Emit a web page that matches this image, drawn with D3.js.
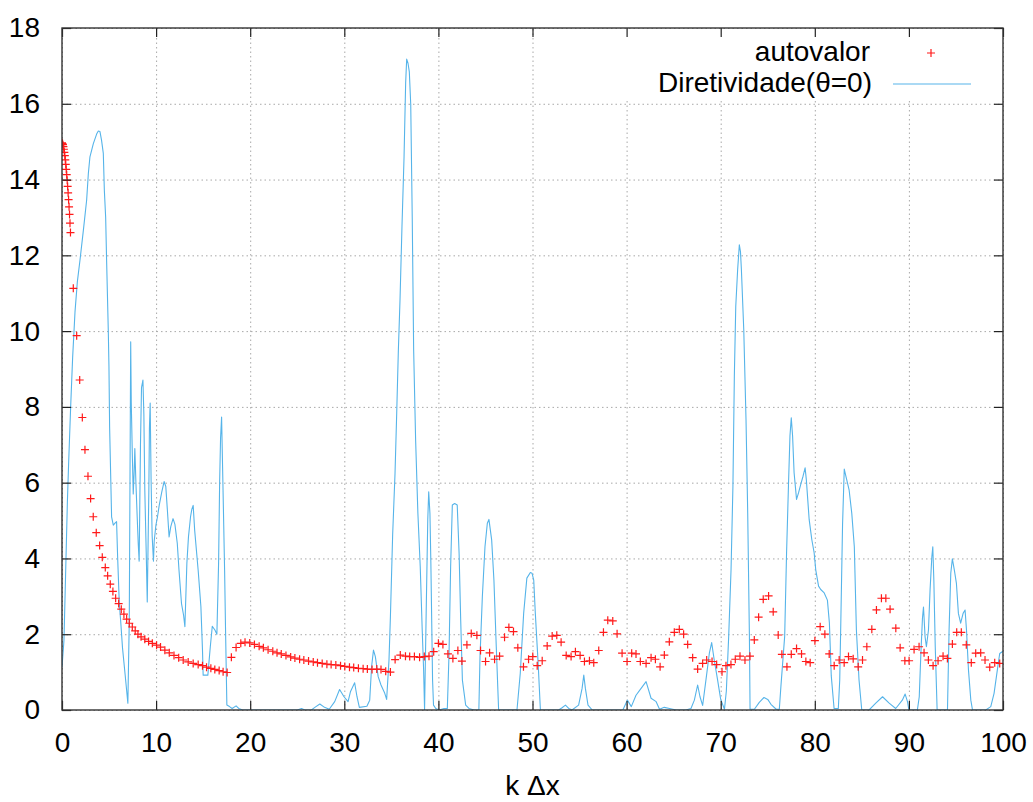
<!DOCTYPE html>
<html>
<head>
<meta charset="utf-8">
<script src="https://cdn.jsdelivr.net/npm/d3@7"></script>
<style>
  body { margin: 0; background: #fff; }
  text { font-family: "Liberation Sans", Arial, Helvetica, sans-serif; }
</style>
</head>
<body>
<svg id="chart" width="1033" height="802"></svg>
<script>
// Eigenvalue samples (autovalor) versus k·Δx
const autovalorX = [
  0.00,0.05,0.10,0.15,0.20,0.25,0.30,0.35,0.40,0.45,0.50,0.55,0.60,0.65,0.70,0.75,0.80,0.85,0.90,
  1.20,1.56,1.88,2.16,2.44,2.76,3.04,3.32,3.64,4.00,4.28,4.60,4.85,5.13,5.41,5.70,6.02,6.30,6.58,6.87,
  7.15,7.47,7.78,8.07,8.40,8.80,9.20,9.60,10.05,10.47,10.93,11.40,11.90,12.40,12.88,13.41,13.94,14.47,
  14.93,15.36,15.82,16.24,16.70,17.12,17.55,
  18.00,18.50,19.00,19.45,19.95,20.45,20.95,21.40,21.90,22.40,22.85,23.30,23.80,24.30,24.75,25.25,25.70,
  26.20,26.70,27.15,27.65,28.15,28.60,29.10,29.60,30.05,30.55,31.00,31.50,32.00,32.45,32.95,33.45,33.90,
  34.40,34.90,35.40,35.95,36.50,36.95,37.45,38.00,38.50,39.00,39.50,40.00,
  40.48,41.01,41.54,42.07,42.50,43.03,43.49,44.09,44.48,45.01,45.44,45.97,46.50,47.03,47.49,47.98,48.44,
  49.04,49.58,50.03,50.50,51.03,51.56,52.09,52.58,53.04,53.58,54.10,54.56,55.06,55.52,56.05,56.51,57.04,
  57.54,58.00,58.53,58.99,59.52,60.05,60.54,61.00,61.46,62.07,
  62.60,63.06,63.56,64.01,64.54,65.07,65.60,66.06,66.49,67.02,67.55,68.08,68.51,69.08,69.57,70.14,70.56,
  71.09,71.55,72.05,72.58,73.11,73.57,74.03,74.52,75.09,75.58,76.11,76.50,77.04,77.50,78.06,78.59,79.05,
  79.51,80.01,80.57,81.07,81.53,82.06,82.59,83.12,83.58,84.08,84.61,85.07,85.53,86.06,86.55,87.08,87.55,
  88.00,88.61,89.07,89.57,90.02,90.55,91.08,91.61,92.07,92.57,93.10,93.63,94.09,94.62,95.08,95.57,96.10,
  96.63,97.10,97.63,98.09,98.59,99.12,99.65
];
const autovalorY = [
  14.97,14.95,14.92,14.87,14.80,14.72,14.63,14.52,14.40,14.27,14.13,13.98,13.82,13.65,13.47,13.28,13.08,12.85,12.60,
  11.13,9.88,8.71,7.72,6.87,6.17,5.58,5.10,4.68,4.34,4.03,3.76,3.54,3.32,3.13,2.95,2.81,2.66,2.53,2.40,
  2.29,2.19,2.09,2.00,1.93,1.87,1.81,1.76,1.71,1.66,1.58,1.51,1.44,1.38,1.32,1.27,1.23,1.20,
  1.17,1.13,1.10,1.07,1.04,1.01,0.99,
  1.39,1.65,1.76,1.79,1.77,1.73,1.68,1.64,1.59,1.55,1.51,1.48,1.44,1.40,1.37,1.34,1.32,
  1.29,1.27,1.25,1.23,1.21,1.20,1.19,1.17,1.15,1.13,1.12,1.10,1.09,1.08,1.07,1.08,1.07,
  1.02,1.00,1.33,1.45,1.42,1.41,1.41,1.39,1.41,1.42,1.54,1.76,
  1.73,1.48,1.36,1.57,1.29,1.72,2.02,1.97,1.57,1.28,1.51,1.34,1.42,1.92,2.18,2.07,1.64,
  1.14,1.34,1.41,1.17,1.30,1.69,1.95,1.97,1.79,1.44,1.41,1.54,1.44,1.28,1.30,1.25,1.57,
  2.05,2.37,2.35,2.01,1.50,1.28,1.50,1.48,1.28,1.23,
  1.38,1.34,1.14,1.45,1.80,2.05,2.13,2.00,1.73,1.38,1.08,1.23,1.32,1.28,1.20,1.01,1.17,
  1.20,1.34,1.42,1.32,1.42,1.85,2.45,2.92,3.01,2.59,1.98,1.47,1.14,1.47,1.62,1.48,1.28,
  1.25,1.83,2.20,2.00,1.48,1.17,1.32,1.25,1.41,1.35,1.14,1.32,1.67,2.13,2.64,2.95,2.95,
  2.66,2.16,1.64,1.30,1.30,1.60,1.67,1.51,1.32,1.17,1.30,1.42,1.36,1.74,2.05,2.05,1.72,
  1.25,1.50,1.51,1.32,1.13,1.25,1.23
];

// Directivity at theta = 0 (Diretividade) versus k·Δx
const diretividadeX = [
  0.00,0.21,0.42,0.57,0.70,0.92,1.13,1.38,1.63,1.91,2.27,2.62,2.80,2.97,3.33,3.68,3.86,4.03,4.20,4.39,
  4.50,4.64,4.74,4.92,4.99,5.06,5.20,5.27,5.45,5.66,5.80,5.91,6.09,6.23,6.43,6.71,7.00,7.15,7.30,7.36,
  7.47,7.57,7.67,7.74,7.85,7.99,8.10,8.20,8.34,8.45,8.60,8.70,8.80,8.95,9.06,9.23,9.29,9.37,9.47,9.58,
  9.72,9.80,9.98,10.15,10.33,10.60,10.85,11.03,11.20,11.38,11.56,11.80,12.00,12.25,12.43,12.70,12.92,
  13.06,13.27,13.44,13.66,13.80,13.94,14.10,14.47,14.76,14.93,15.00,15.50,15.76,15.97,16.25,16.46,16.64,
  16.75,16.85,16.96,17.10,17.28,17.38,17.52,17.80,18.08,18.50,18.78,19.20,25.00,25.46,25.80,26.50,26.87,
  27.40,27.90,28.40,28.98,29.50,29.97,30.40,30.65,31.10,31.35,31.60,32.40,32.70,32.90,33.10,33.30,33.60,
  33.90,34.30,34.50,34.75,34.90,35.14,35.39,35.57,35.74,35.92,36.13,36.35,36.52,36.63,36.77,36.91,37.06,
  37.22,37.37,37.58,37.82,38.07,38.28,38.43,38.53,38.70,38.87,38.97,39.10,39.20,39.38,39.48,39.72,40.07,
  40.60,40.95,41.13,41.30,41.48,41.73,42.00,42.20,42.37,42.55,42.90,43.25,43.79,44.30,44.42,44.67,44.95,
  45.20,45.37,45.66,45.90,46.15,46.40,48.35,48.70,49.06,49.40,49.77,49.95,50.13,50.30,50.60,50.84,52.78,
  53.14,53.50,53.85,54.20,54.90,55.27,55.45,55.62,55.90,56.35,59.60,60.08,60.50,61.00,61.54,62.07,62.60,
  63.14,63.50,64.00,64.56,65.26,66.30,66.84,67.20,67.55,67.80,68.08,68.44,68.80,69.04,69.30,69.66,70.00,
  70.40,70.60,70.85,71.10,71.30,71.45,71.60,71.80,71.98,72.10,72.20,72.45,72.69,72.87,73.05,73.12,73.58,
  74.10,74.60,75.00,75.34,75.90,76.23,76.40,76.80,77.00,77.20,77.36,77.50,77.64,77.80,78.06,78.27,78.50,
  78.75,78.97,79.10,79.40,79.68,79.93,80.10,80.40,80.63,81.00,81.34,81.55,81.75,82.05,82.50,82.65,82.77,
  82.95,83.13,83.37,83.65,83.93,84.20,84.42,84.70,84.99,85.77,86.48,87.20,87.90,88.60,89.30,89.60,89.85,
  90.00,90.90,91.10,91.26,91.44,91.55,91.72,91.86,92.08,92.25,92.44,92.54,92.65,92.80,93.00,94.10,94.27,
  94.45,94.62,94.83,95.05,95.26,95.50,95.76,95.97,96.12,96.33,96.58,96.76,98.17,98.70,99.05,99.40,99.65,
  100.00
];
const diretividadeY = [
  1.13,1.84,3.96,5.47,6.48,8.00,9.30,10.50,11.30,11.87,12.66,13.46,14.16,14.60,14.95,15.20,15.28,15.27,15.04,14.69,
  13.72,13.00,11.87,10.00,9.06,7.47,5.89,5.10,4.88,4.94,4.97,4.05,2.81,2.37,1.64,0.93,0.18,2.37,9.72,8.13,
  6.77,5.70,6.30,6.90,6.03,5.10,4.40,3.93,7.00,8.51,8.71,7.80,5.80,4.16,2.85,5.80,7.43,8.10,6.03,4.60,
  3.93,4.46,4.88,5.10,5.40,5.75,6.03,5.90,5.27,4.57,4.84,5.05,4.90,4.40,3.70,2.81,2.50,
  2.20,3.87,4.57,5.10,5.30,5.40,4.74,3.69,2.73,1.58,0.92,0.92,1.67,2.21,2.11,2.00,3.87,
  5.98,7.17,7.73,5.98,3.69,2.11,0.13,0.09,0.04,0.11,0.04,0.00,0.00,0.04,0.00,0.00,0.07,
  0.16,0.07,0.02,0.22,0.54,0.35,0.22,0.48,0.72,0.35,0.07,0.10,0.26,1.14,1.58,1.41,0.88,
  0.66,0.44,0.28,1.32,2.46,4.64,6.24,7.84,9.45,10.82,12.77,14.60,16.55,17.18,17.07,16.84,15.98,
  13.00,9.50,7.12,5.19,3.78,2.11,1.05,0.00,2.55,5.02,5.76,5.19,3.87,0.79,0.13,0.04,0.00,
  0.04,0.04,1.49,3.78,5.41,5.45,5.41,4.13,2.37,0.79,0.13,0.04,0.00,0.00,1.40,2.99,4.31,
  4.93,5.03,4.49,3.43,1.67,0.00,0.00,0.97,2.55,3.48,3.63,3.61,3.43,2.55,1.23,0.00,0.00,
  0.06,0.13,0.04,0.00,0.13,0.57,0.92,0.57,0.13,0.00,0.00,0.26,0.09,0.39,0.57,0.75,0.31,
  0.22,0.02,0.07,0.04,0.00,0.00,0.04,0.26,0.66,0.35,0.12,0.81,1.51,1.78,1.34,0.81,0.28,
  0.02,0.50,1.95,3.71,5.91,8.81,10.65,11.62,12.28,12.10,11.62,10.04,7.67,5.20,1.95,0.02,0.02,
  0.20,0.33,0.28,0.15,0.02,0.02,0.63,1.95,4.15,5.91,7.23,7.71,7.23,6.26,5.56,5.73,5.95,
  6.17,6.39,6.08,5.03,4.50,4.15,3.70,3.27,3.18,3.09,2.90,2.30,0.90,0.04,0.04,0.79,2.39,
  4.90,6.36,6.10,5.80,5.19,4.31,2.11,0.79,0.00,0.00,0.18,0.35,0.18,0.04,0.26,0.42,0.22,
  0.00,0.00,0.35,1.41,2.42,2.72,1.93,1.67,2.11,3.17,4.05,4.31,3.43,1.67,0.00,0.00,2.11,
  3.61,3.99,3.69,3.34,2.55,2.29,2.55,2.64,2.11,1.06,0.26,0.00,0.00,0.09,0.44,1.06,1.49,
  1.55
];

const xTickValues = [0, 10, 20, 30, 40, 50, 60, 70, 80, 90, 100];
const yTickValues = [0, 2, 4, 6, 8, 10, 12, 14, 16, 18];
const seriesLabels = ["autovalor", "Diretividade(\u03b8=0)"];
const xAxisTitle = "k \u0394x";

const colorPoints = "#ff1a1a";
const colorLine = "#56b4e9";
const fontSize = 28;

const svg = d3.select("#chart");
const plot = { left: 62, right: 1003, top: 28, bottom: 710 };

const x = d3.scaleLinear().domain([0, 100]).range([plot.left, plot.right]);
const y = d3.scaleLinear().domain([0, 18]).range([plot.bottom, plot.top]);

// dotted grid
const grid = svg.append("g").attr("class", "grid");
grid.append("g")
  .attr("transform", `translate(0,${plot.bottom})`)
  .call(d3.axisBottom(x).tickValues(xTickValues).tickSize(-(plot.bottom - plot.top)).tickFormat(""));
grid.append("g")
  .attr("transform", `translate(${plot.left},0)`)
  .call(d3.axisLeft(y).tickValues(yTickValues).tickSize(-(plot.right - plot.left)).tickFormat(""));
grid.selectAll(".domain").remove();
grid.selectAll("line")
  .attr("stroke", "#a8a8a8")
  .attr("stroke-width", 1)
  .attr("stroke-dasharray", "1.5,3");

// legend box hides the grid behind the key
svg.append("rect")
  .attr("x", 560).attr("y", plot.top + 1)
  .attr("width", plot.right - 1 - 560).attr("height", 70)
  .attr("fill", "#fff");

// data layers clipped to the plot frame
svg.append("clipPath").attr("id", "plotClip")
  .append("rect")
  .attr("x", plot.left).attr("y", plot.top)
  .attr("width", plot.right - plot.left).attr("height", plot.bottom - plot.top);

const lineData = diretividadeX.map((d, i) => [d, diretividadeY[i]]);
svg.append("path")
  .datum(lineData)
  .attr("clip-path", "url(#plotClip)")
  .attr("fill", "none")
  .attr("stroke", colorLine)
  .attr("stroke-width", 1.1)
  .attr("stroke-linejoin", "round")
  .attr("d", d3.line().x(d => x(d[0])).y(d => y(d[1])));

const cross = "M-4,0H4M0,-4V4";
const pointData = autovalorX.map((d, i) => [d, autovalorY[i]]);
svg.append("g")
  .attr("clip-path", "url(#plotClip)")
  .selectAll("path")
  .data(pointData)
  .join("path")
  .attr("transform", d => `translate(${x(d[0])},${y(d[1])})`)
  .attr("d", cross)
  .attr("fill", "none")
  .attr("stroke", colorPoints)
  .attr("stroke-width", 1.2);

// inward tick marks on all four sides plus labels
const tickLen = 9;
const axB = svg.append("g").attr("transform", `translate(0,${plot.bottom})`)
  .call(d3.axisBottom(x).tickValues(xTickValues).tickSizeInner(-tickLen).tickSizeOuter(0).tickPadding(22));
const axL = svg.append("g").attr("transform", `translate(${plot.left},0)`)
  .call(d3.axisLeft(y).tickValues(yTickValues).tickSizeInner(-tickLen).tickSizeOuter(0).tickPadding(22));
const axT = svg.append("g").attr("transform", `translate(0,${plot.top})`)
  .call(d3.axisTop(x).tickValues(xTickValues).tickSizeInner(-tickLen).tickSizeOuter(0).tickFormat(""));
const axR = svg.append("g").attr("transform", `translate(${plot.right},0)`)
  .call(d3.axisRight(y).tickValues(yTickValues).tickSizeInner(-tickLen).tickSizeOuter(0).tickFormat(""));
[axB, axL, axT, axR].forEach(a => {
  a.select(".domain").remove();
  a.selectAll("line").attr("stroke", "#222").attr("stroke-width", 1.2);
  a.selectAll("text")
    .attr("fill", "#000")
    .style("font-size", fontSize + "px")
    .style("font-family", '"Liberation Sans", Arial, sans-serif');
});

// frame
svg.append("rect")
  .attr("x", plot.left).attr("y", plot.top)
  .attr("width", plot.right - plot.left).attr("height", plot.bottom - plot.top)
  .attr("fill", "none").attr("stroke", "#333").attr("stroke-width", 1.4);

// axis title
svg.append("text")
  .attr("x", (plot.left + plot.right) / 2)
  .attr("y", 795)
  .attr("text-anchor", "middle")
  .style("font-size", fontSize + "px")
  .text(xAxisTitle);

// legend
const legend = svg.append("g");
legend.append("text")
  .attr("x", 870).attr("y", 61)
  .attr("text-anchor", "end")
  .style("font-size", fontSize + "px")
  .text(seriesLabels[0]);
legend.append("path")
  .attr("transform", "translate(931,53)")
  .attr("d", cross)
  .attr("fill", "none")
  .attr("stroke", colorPoints)
  .attr("stroke-width", 1.2);
legend.append("text")
  .attr("x", 872).attr("y", 92)
  .attr("text-anchor", "end")
  .style("font-size", fontSize + "px")
  .text(seriesLabels[1]);
legend.append("line")
  .attr("x1", 893).attr("x2", 971)
  .attr("y1", 84).attr("y2", 84)
  .attr("stroke", colorLine)
  .attr("stroke-width", 1.1);
</script>
</body>
</html>
